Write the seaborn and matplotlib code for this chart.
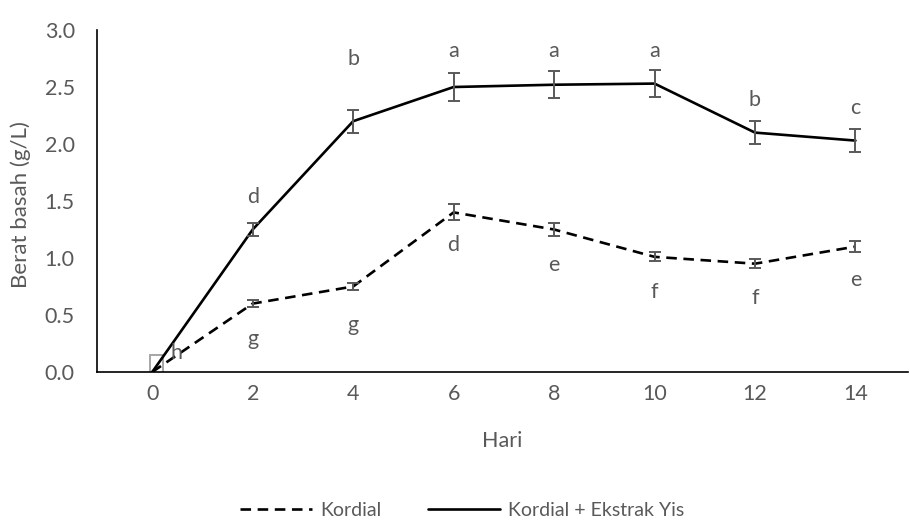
import matplotlib
matplotlib.use("Agg")
import matplotlib.pyplot as plt
import seaborn as sns
import pandas as pd

# Sampling days
hari = [0, 2, 4, 6, 8, 10, 12, 14]

# Wet weight (g/L) for each treatment
kordial = [0.0, 0.60, 0.75, 1.40, 1.25, 1.01, 0.95, 1.10]
kordial_err = [0.0, 0.03, 0.03, 0.07, 0.06, 0.04, 0.04, 0.05]
kordial_yis = [0.0, 1.25, 2.20, 2.50, 2.52, 2.53, 2.10, 2.03]
kordial_yis_err = [0.0, 0.06, 0.10, 0.12, 0.12, 0.12, 0.10, 0.10]

# Significance letters and the heights at which they are written
huruf_kordial = ["h", "g", "g", "d", "e", "f", "f", "e"]
huruf_kordial_y = [0.17, 0.29, 0.41, 1.11, 0.94, 0.70, 0.65, 0.81]
huruf_yis = ["", "d", "b", "a", "a", "a", "b", "c"]
huruf_yis_y = [0, 1.535, 2.75, 2.82, 2.82, 2.82, 2.39, 2.32]

y_ticks = [0.0, 0.5, 1.0, 1.5, 2.0, 2.5, 3.0]

label_a = "Kordial"
label_b = "Kordial + Ekstrak Yis"

sns.set_theme(style="white")
plt.rcParams["font.family"] = ["Lato", "DejaVu Sans"]

grey = "#595959"
fs = 15.5

df = pd.DataFrame({
    "Hari": hari * 2,
    "Berat": kordial + kordial_yis,
    "Rawatan": [label_a] * len(hari) + [label_b] * len(hari),
})

fig = plt.figure(figsize=(9.10, 5.22), dpi=100)
ax = fig.add_axes([0.1066, 0.2874, 0.8914, 0.6551])

sns.lineplot(
    data=df, x="Hari", y="Berat", hue="Rawatan", style="Rawatan",
    palette={label_a: "black", label_b: "black"},
    dashes={label_a: (4, 2.5), label_b: ""},
    linewidth=1.9, ax=ax, legend=False,
)

# Error bars
for vals, errs in ((kordial, kordial_err), (kordial_yis, kordial_yis_err)):
    ax.errorbar(hari[1:], vals[1:], yerr=errs[1:], fmt="none",
                ecolor=grey, elinewidth=1.4, capsize=4.5, capthick=1.4, zorder=3)

# Small grey bracket at the origin
ax.plot([-0.05, -0.05, 0.22, 0.22], [0.0, 0.15, 0.15, 0.0], color="#a6a6a6",
        lw=1.4, zorder=1, solid_joinstyle="miter")

# Letters
for x, t, y in zip(hari, huruf_kordial, huruf_kordial_y):
    xx = x + 0.48 if x == 0 else x
    ax.text(xx, y, t, ha="center", va="center", fontsize=fs, color=grey)
for x, t, y in zip(hari, huruf_yis, huruf_yis_y):
    if t:
        ax.text(x, y, t, ha="center", va="center", fontsize=fs, color=grey)

ax.set_xlim(-1.1, 15.05)
ax.set_ylim(0, 3.0)
ax.set_xticks(hari)
ax.set_xticklabels([str(h) for h in hari])
ax.set_yticks(y_ticks)
ax.set_yticklabels([f"{v:.1f}" for v in y_ticks])
ax.tick_params(axis="both", length=0, labelsize=fs, labelcolor=grey)
ax.tick_params(axis="x", pad=9)
ax.tick_params(axis="y", pad=16)
ax.set_xlabel("Hari", fontsize=fs, color=grey, labelpad=19)
ax.set_ylabel("Berat basah (g/L)", fontsize=16, color=grey)
ax.yaxis.set_label_coords(-0.081, 0.49)

for side in ("top", "right"):
    ax.spines[side].set_visible(False)
for side in ("left", "bottom"):
    ax.spines[side].set_color("black")
    ax.spines[side].set_linewidth(1.2)

handles = [
    plt.Line2D([], [], color="black", lw=1.9, dashes=(4, 2.5)),
    plt.Line2D([], [], color="black", lw=1.9),
]
leg = fig.legend(handles, [label_a, label_b], loc="lower center",
                 bbox_to_anchor=(0.508, -0.028), ncol=2, frameon=False,
                 fontsize=14, handlelength=3.7, columnspacing=2.4,
                 handletextpad=0.4)
for t in leg.get_texts():
    t.set_color(grey)

fig.savefig("out.png", dpi=100)
